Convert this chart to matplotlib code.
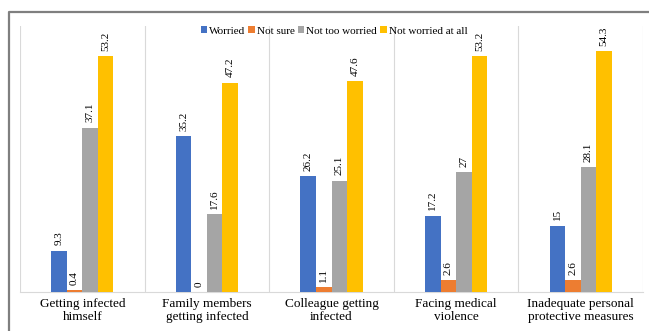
import matplotlib.pyplot as plt
from matplotlib.lines import Line2D
import numpy as np

categories = ['Getting infected\nhimself', 'Family members\ngetting infected',
              'Colleague getting\ninfected', 'Facing medical\nviolence',
              'Inadequate personal\nprotective measures']
series = ['Worried', 'Not sure', 'Not too worried', 'Not worried at all']
worried = [9.3, 35.2, 26.2, 17.2, 15]
not_sure = [0.4, 0, 1.1, 2.6, 2.6]
not_too = [37.1, 17.6, 25.1, 27, 28.1]
not_at_all = [53.2, 47.2, 47.6, 53.2, 54.3]
labels = [['9.3', '35.2', '26.2', '17.2', '15'],
          ['0.4', '0', '1.1', '2.6', '2.6'],
          ['37.1', '17.6', '25.1', '27', '28.1'],
          ['53.2', '47.2', '47.6', '53.2', '54.3']]
colors = ['#4472C4', '#ED7D31', '#A5A5A5', '#FFC000']

plt.rcParams['font.family'] = ['Liberation Serif', 'DejaVu Serif']

fig = plt.figure(figsize=(6.49, 3.31), dpi=100)
ax = fig.add_axes([0.0308, 0.1178, 0.960, 0.8036])

# outer frame: only top and left edges are inside the picture
fig.lines.append(Line2D([9/649, 9/649, 1.0], [0.0, 1 - 12/331, 1 - 12/331],
                        transform=fig.transFigure, color='#7f7f7f', linewidth=1.6))

x = np.arange(len(categories))
w = 0.125
data = [worried, not_sure, not_too, not_at_all]
for i, (vals, c, name) in enumerate(zip(data, colors, series)):
    pos = x + (i - 1.5) * w
    ax.bar(pos, vals, w, color=c, label=name, zorder=3)
    for p, v, t in zip(pos, vals, labels[i]):
        ax.text(p, v + 1.2, t, rotation=90, ha='center', va='bottom', fontsize=8)

for b in np.arange(-0.5, 5, 1.0):
    ax.axvline(b, color='#d9d9d9', linewidth=0.8, zorder=1)

ax.set_xlim(-0.5, 4.5)
ax.set_ylim(0, 60)
ax.set_yticks([])
ax.set_xticks(x)
ax.set_xticklabels(categories, fontsize=9.5)
ax.tick_params(axis='x', length=0, pad=4)
for s in ['top', 'left', 'right']:
    ax.spines[s].set_visible(False)
ax.spines['bottom'].set_color('#d9d9d9')

ax.legend(loc='center', bbox_to_anchor=(0.504, 0.981), ncol=4, frameon=False,
          fontsize=8, handlelength=0.55, handleheight=0.55, handletextpad=0.2,
          columnspacing=0.3)

fig.savefig('out.png', dpi=100)
